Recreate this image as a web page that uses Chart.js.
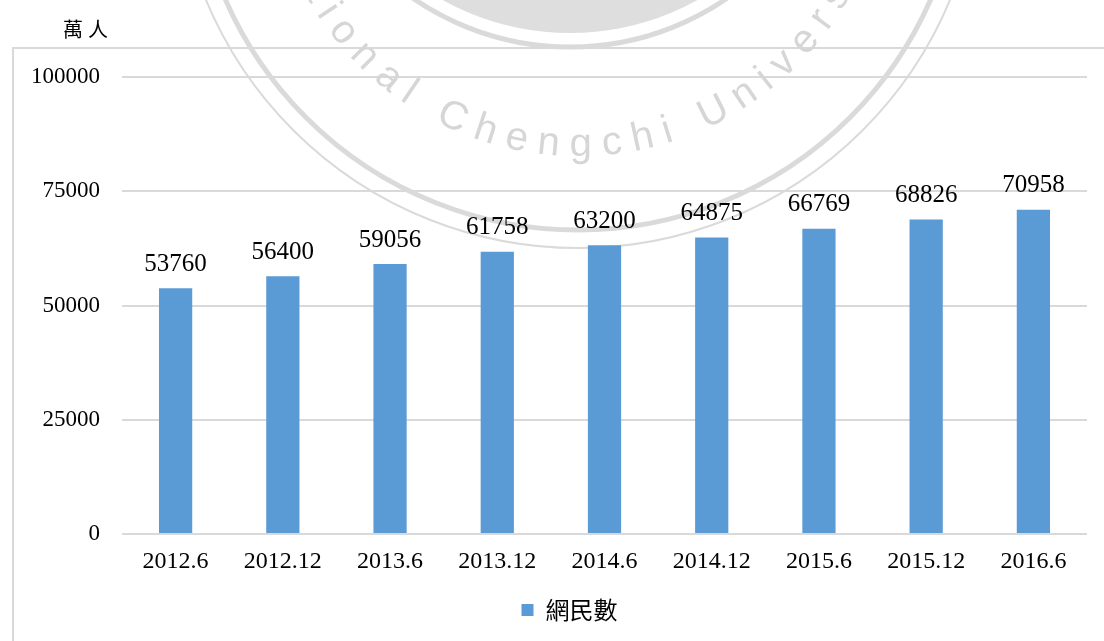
<!DOCTYPE html>
<html>
<head>
<meta charset="utf-8">
<script src="https://cdn.jsdelivr.net/npm/chart.js@4.4.0/dist/chart.umd.min.js"></script>
<style>
  html, body { margin: 0; padding: 0; background: #fff; }
  #wrap { width: 1104px; height: 641px; }
</style>
</head>
<body>
<div id="wrap"><canvas id="netChart" width="1104" height="641"></canvas></div>
<script>
// data
const periods = ["2012.6", "2012.12", "2013.6", "2013.12", "2014.6", "2014.12", "2015.6", "2015.12", "2016.6"];
const netizens = [53760, 56400, 59056, 61758, 63200, 64875, 66769, 68826, 70958];
const yTicks = [0, 25000, 50000, 75000, 100000];
const seriesName = "網民數";
const unitLabel = "萬人";
const watermarkText = "National Chengchi University";

const serif = "'Liberation Serif', 'Times New Roman', serif";
const cjk = "'Noto Sans CJK TC', 'Noto Sans CJK SC', sans-serif";

// outer frame + unit label
const frame = {
  id: "frame",
  beforeDraw(chart) {
    const ctx = chart.ctx;
    ctx.save();
    ctx.strokeStyle = "#d9d9d9";
    ctx.lineWidth = 2;
    ctx.strokeRect(13, 48, 1300, 800);
    ctx.restore();
  },
  afterLayout(chart) {
    // legend item sits a bit right of centre in the original
    chart.legend.left += 26;
    chart.legend.right += 26;
  },
  afterDraw(chart) {
    const ctx = chart.ctx;
    ctx.save();
    ctx.font = "20px " + cjk;
    ctx.fillStyle = "#000";
    ctx.textAlign = "center";
    ctx.textBaseline = "middle";
    ctx.letterSpacing = "5px";
    ctx.fillText(unitLabel, 88, 29);
    ctx.restore();
  }
};

// faint university seal behind the bars
const watermark = {
  id: "watermark",
  beforeDatasetsDraw(chart) {
    const ctx = chart.ctx;
    const cx = 578, cy = -155;
    ctx.save();
    ctx.strokeStyle = "#dadada";
    ctx.fillStyle = "#dedede";
    ctx.lineWidth = 2;
    ctx.beginPath(); ctx.arc(cx, cy, 403, 0, Math.PI * 2); ctx.stroke();
    ctx.lineWidth = 5;
    ctx.beginPath(); ctx.arc(cx, cy, 385, 0, Math.PI * 2); ctx.stroke();
    ctx.beginPath(); ctx.arc(570, -230, 263, 0, Math.PI * 2); ctx.fill();
    ctx.beginPath(); ctx.arc(570, -230, 277, 0, Math.PI * 2); ctx.stroke();

    ctx.font = "40px 'Liberation Sans', Arial, sans-serif";
    ctx.fillStyle = "#d6d6d6";
    ctx.textAlign = "center";
    ctx.textBaseline = "middle";
    const r = 300, gap = 10;
    const chars = [...watermarkText];
    const widths = chars.map(c => ctx.measureText(c).width + gap);
    const total = widths.reduce((a, b) => a + b, 0);
    let t = -total / 2 / r;
    chars.forEach((c, i) => {
      const a = t + widths[i] / 2 / r;
      ctx.save();
      ctx.translate(cx + r * Math.sin(a), cy + r * Math.cos(a));
      ctx.rotate(-a);
      ctx.fillText(c, 0, 0);
      ctx.restore();
      t += widths[i] / r;
    });
    ctx.restore();
  }
};

// value labels above bars
const barLabels = {
  id: "barLabels",
  afterDatasetsDraw(chart) {
    const ctx = chart.ctx;
    const meta = chart.getDatasetMeta(0);
    ctx.save();
    ctx.font = "25px " + serif;
    ctx.fillStyle = "#000";
    ctx.textAlign = "center";
    ctx.textBaseline = "middle";
    meta.data.forEach((bar, i) => {
      ctx.fillText(String(netizens[i]), bar.x, bar.y - 24);
    });
    ctx.restore();
  }
};

const ctx = document.getElementById("netChart").getContext("2d");
new Chart(ctx, {
  type: "bar",
  data: {
    labels: periods,
    datasets: [{
      label: seriesName,
      data: netizens,
      backgroundColor: "#5b9bd5",
      borderWidth: 0,
      barPercentage: 0.31,
      categoryPercentage: 1
    }]
  },
  options: {
    responsive: false,
    animation: false,
    layout: { padding: { top: 77, left: 0, right: 17, bottom: 9 } },
    scales: {
      x: {
        grid: { display: false },
        border: { display: false },
        ticks: { color: "#000", font: { family: serif, size: 24 }, padding: 5, maxRotation: 0 },
        afterFit: s => { s.height = 54; }
      },
      y: {
        min: 0,
        max: 100000,
        afterBuildTicks: s => { s.ticks = yTicks.map(v => ({ value: v })); },
        grid: { color: "#d9d9d9", lineWidth: 2, drawTicks: false },
        border: { display: false },
        ticks: {
          color: "#000",
          font: { family: serif, size: 23 },
          padding: 22,
          callback: v => String(v)
        },
        afterFit: s => { s.width = 122; }
      }
    },
    plugins: {
      legend: {
        position: "bottom",
        labels: {
          color: "#000",
          font: { family: cjk, size: 24 },
          boxWidth: 12,
          boxHeight: 12,
          padding: 10
        }
      },
      tooltip: { enabled: false }
    }
  },
  plugins: [frame, watermark, barLabels]
});
</script>
</body>
</html>
